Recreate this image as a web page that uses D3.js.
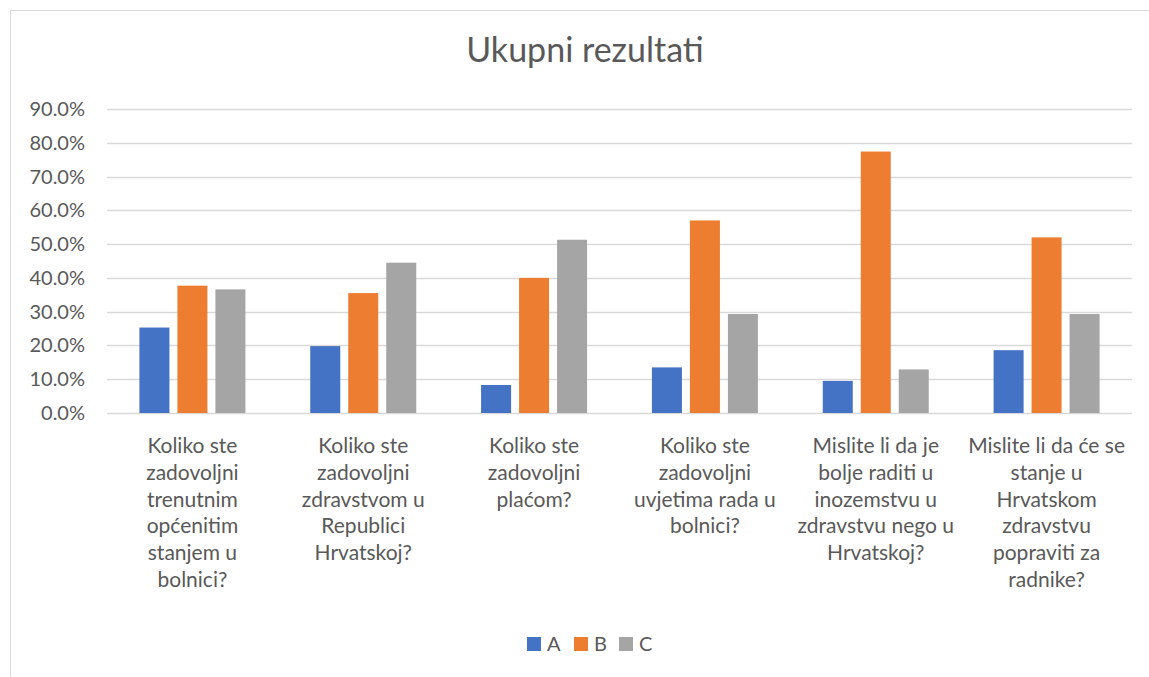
<!DOCTYPE html>
<html>
<head>
<meta charset="utf-8">
<script src="https://cdn.jsdelivr.net/npm/d3@7"></script>
<style>
  body { margin: 0; background: #fff; }
  text { font-family: Lato, "Open Sans", sans-serif; fill: #595959; }
</style>
</head>
<body>
<div id="chart"></div>
<script>
// Chart data
const categories = [
    "Koliko ste\nzadovoljni\ntrenutnim\nopćenitim\nstanjem u\nbolnici?",
    "Koliko ste\nzadovoljni\nzdravstvom u\nRepublici\nHrvatskoj?",
    "Koliko ste\nzadovoljni\nplaćom?",
    "Koliko ste\nzadovoljni\nuvjetima rada u\nbolnici?",
    "Mislite li da je\nbolje raditi u\ninozemstvu u\nzdravstvu nego u\nHrvatskoj?",
    "Mislite li da će se\nstanje u\nHrvatskom\nzdravstvu\npopraviti za\nradnike?"
];
const seriesNames = ["A", "B", "C"];
const valuesA = [25.3, 19.8, 8.3, 13.5, 9.5, 18.6];
const valuesB = [37.7, 35.5, 40.0, 57.0, 77.4, 52.0];
const valuesC = [36.6, 44.5, 51.3, 29.3, 12.9, 29.3];
const yTicks = [0, 10, 20, 30, 40, 50, 60, 70, 80, 90];
const colors = ["#4472C4", "#ED7D31", "#A5A5A5"];

const width = 1149, height = 677;
const margin = { top: 109, left: 107, right: 17, bottom: 264 };

const svg = d3.select("#chart").append("svg")
    .attr("width", width)
    .attr("height", height);

// Chart border
svg.append("rect")
    .attr("x", 10.5).attr("y", 10.5)
    .attr("width", width + 20).attr("height", height + 20)
    .attr("fill", "none")
    .attr("stroke", "#D9D9D9");

// Title
svg.append("text")
    .attr("x", 585).attr("y", 62)
    .attr("text-anchor", "middle")
    .style("font-size", "34px")
    .text("Ukupni rezultati");

const x = d3.scaleBand()
    .domain(categories)
    .range([margin.left, width - margin.right]);

const xInner = d3.scaleBand()
    .domain(seriesNames)
    .range([-53, 53])
    .paddingInner(0.21);

const y = d3.scaleLinear()
    .domain([0, 90])
    .range([height - margin.bottom, margin.top]);

// Gridlines
svg.append("g")
    .selectAll("line")
    .data(yTicks)
    .enter().append("line")
    .attr("x1", margin.left)
    .attr("x2", width - margin.right)
    .attr("y1", d => Math.round(y(d)) + 0.5)
    .attr("y2", d => Math.round(y(d)) + 0.5)
    .attr("stroke", "#D9D9D9")
    .attr("stroke-width", 1.3);

// Y tick labels
svg.append("g")
    .selectAll("text")
    .data(yTicks)
    .enter().append("text")
    .attr("x", margin.left - 22)
    .attr("y", d => y(d))
    .attr("dy", "0.35em")
    .attr("text-anchor", "end")
    .style("font-size", "20px")
    .text(d => d.toFixed(1) + "%");

// Bars
const series = [valuesA, valuesB, valuesC];
seriesNames.forEach((name, si) => {
    svg.append("g")
        .selectAll("rect")
        .data(series[si])
        .enter().append("rect")
        .attr("x", (d, i) => x(categories[i]) + x.bandwidth() / 2 + xInner(name))
        .attr("y", d => y(d))
        .attr("width", xInner.bandwidth())
        .attr("height", d => y(0) - y(d))
        .attr("fill", colors[si]);
});

// Category labels
const catLabels = svg.append("g")
    .selectAll("text")
    .data(categories)
    .enter().append("text")
    .attr("text-anchor", "middle")
    .style("font-size", "21px");

catLabels.selectAll("tspan")
    .data(d => d.split("\n").map(line => ({ line, cat: d })))
    .enter().append("tspan")
    .attr("x", d => x(d.cat) + x.bandwidth() / 2)
    .attr("y", (d, i) => 453 + i * 26.8)
    .text(d => d.line);

// Legend
const legendX = [527, 574, 619];
const legend = svg.append("g")
    .selectAll("g")
    .data(seriesNames)
    .enter().append("g")
    .attr("transform", (d, i) => `translate(${legendX[i]}, 637)`);

legend.append("rect")
    .attr("width", 14).attr("height", 14)
    .attr("fill", (d, i) => colors[i]);

legend.append("text")
    .attr("x", 20).attr("y", 14)
    .style("font-size", "20px")
    .text(d => d);
</script>
</body>
</html>
